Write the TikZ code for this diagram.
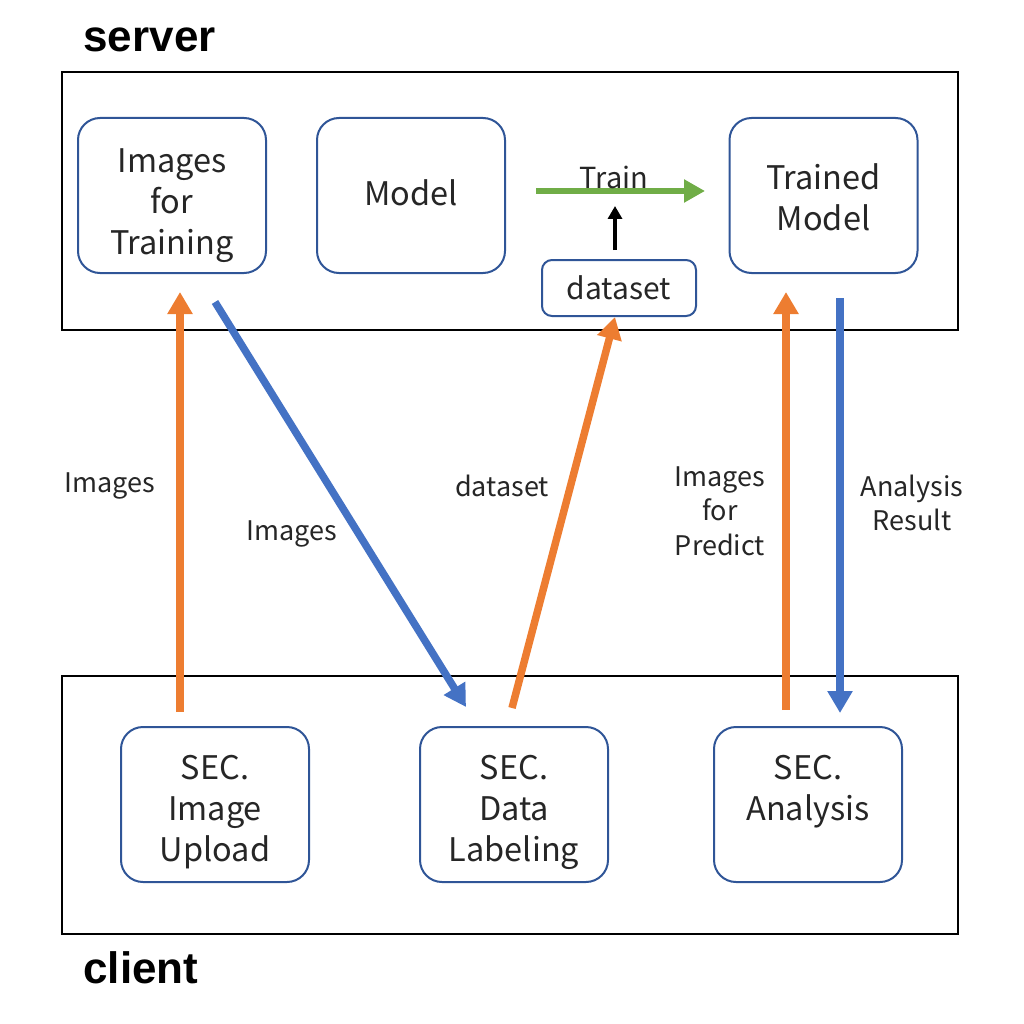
\documentclass[tikz,border=0pt]{standalone}
\usepackage{fontspec}
\setmainfont{Noto Sans CJK JP}
\newfontfamily\labelbold{Liberation Sans}
\usetikzlibrary{arrows.meta}
\definecolor{boxblue}{HTML}{2F5597}
\definecolor{arrorange}{HTML}{ED7D31}
\definecolor{arrblue}{HTML}{4472C4}
\definecolor{arrgreen}{HTML}{70AD47}
\tikzset{
  boxnode/.style={draw=boxblue, line width=2pt, rounded corners=22pt, minimum width=188pt, minimum height=155pt},
  boxtext/.style={align=center, font=\fontsize{32.5}{41}\selectfont, text=black!85},
  smallbox/.style={draw=boxblue, line width=2pt, rounded corners=10pt, minimum width=154pt, minimum height=56pt, align=center, font=\fontsize{30}{36}\selectfont, text=black!85},
  frame/.style={draw=black, line width=2pt},
  lbl/.style={align=center, font=\fontsize{27}{34.5}\selectfont, text=black!85},
  title/.style={font=\labelbold\bfseries\fontsize{44}{50}\selectfont, anchor=base west},
  orangearr/.style={draw=arrorange, line width=7.5pt, -{Triangle[width=24pt,length=22pt]}},
  bluearr/.style={draw=arrblue, line width=7.5pt, -{Triangle[width=24pt,length=22pt]}},
  greenarr/.style={draw=arrgreen, line width=6pt, -{Triangle[width=22pt,length=21pt]}},
  blackarr/.style={draw=black, line width=4.5pt, -{Triangle[width=14pt,length=13pt]}},
}
\begin{document}
\begin{tikzpicture}[x=1pt,y=-1pt]
\useasboundingbox (0,0) rectangle (1024,1024);
% frames
\draw[frame] (62,72) rectangle (958,330);
\draw[frame] (62,676) rectangle (958,934);
\node[title] (server) at (80,52) {server};
\node[title] (client) at (80,983) {client};
% server nodes
\node[boxnode] (imgtrain) at (172,195.5) {};
\node[boxtext] (imgtrainT) at ([yshift=-10pt]imgtrain.center) {Images\\for\\Training};
\node[boxnode] (model) at (411,195.5) {};
\node[boxtext] (modelT) at ([yshift=3pt]model.center) {Model};
\node[boxnode] (trained) at (823.5,195.5) {};
\node[boxtext] (trainedT) at ([yshift=-2pt]trained.center) {Trained\\Model};
\node[smallbox] (dataset) at (619,288) {dataset};
% client nodes
\node[boxnode] (upload) at (215,804.5) {};
\node[boxtext] (uploadT) at ([yshift=-8pt]upload.center) {SEC.\\Image\\Upload};
\node[boxnode] (labeling) at (514,804.5) {};
\node[boxtext] (labelingT) at ([yshift=-8pt]labeling.center) {SEC.\\Data\\Labeling};
\node[boxnode] (analysis) at (808,804.5) {};
\node[boxtext] (analysisT) at ([yshift=13pt]analysis.center) {SEC.\\Analysis};
% coordinates for arrow ends
\coordinate (a1s) at (180,712);
\coordinate (a1e) at (180,292);
\coordinate (a2s) at (215,302);
\coordinate (a2e) at (466,707);
\coordinate (a3s) at (512,708);
\coordinate (a3e) at (615,317);
\coordinate (a4s) at (786,710);
\coordinate (a4e) at (786,292);
\coordinate (a5s) at (840,298);
\coordinate (a5e) at (840,713);
\coordinate (gs) at (536,191);
\coordinate (ge) at (705,191);
\coordinate (bs) at (615,250);
\coordinate (be) at (615,206);
% arrows
\draw[orangearr] (a1s) -- (a1e);
\draw[bluearr] (a2s) -- (a2e);
\draw[orangearr] (a3s) -- (a3e);
\draw[orangearr] (a4s) -- (a4e);
\draw[bluearr] (a5s) -- (a5e);
\draw[greenarr] (gs) -- (ge);
\draw[blackarr] (bs) -- (be);
% labels
\node[lbl] (l1) at (110,486) {Images};
\node[lbl] (l2) at (292,534) {Images};
\node[lbl] (l3) at (502,486) {dataset};
\node[lbl] (l4) at (720,511) {Images\\for\\Predict};
\node[lbl] (l5) at (912,503) {Analysis\\Result};
\node[lbl, font=\fontsize{29}{34.5}\selectfont] (l6) at (614,177) {Train};
\end{tikzpicture}
\end{document}
